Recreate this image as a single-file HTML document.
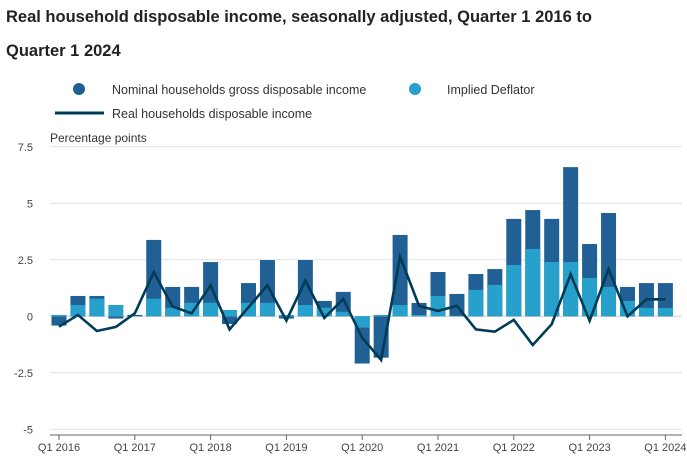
<!DOCTYPE html>
<html><head><meta charset="utf-8"><style>
body{margin:0;background:#fff;font-family:"Liberation Sans",sans-serif;}
svg text{font-family:"Liberation Sans",sans-serif;}
</style></head><body>
<svg id="chart" width="687" height="465" xmlns="http://www.w3.org/2000/svg">
<text x="6" y="22" font-size="16.5" font-weight="bold" fill="#222">Real household disposable income, seasonally adjusted, Quarter 1 2016 to</text>
<text x="6" y="56" font-size="16.5" font-weight="bold" fill="#222">Quarter 1 2024</text>
<g>
<circle cx="79" cy="89" r="6" fill="#206095"/>
<text x="112" y="94" font-size="12.5" fill="#333">Nominal households gross disposable income</text>
<circle cx="415" cy="89" r="6" fill="#27a0cc"/>
<text x="447" y="94" font-size="12.5" fill="#333">Implied Deflator</text>
<line x1="55" y1="113" x2="104" y2="113" stroke="#003c57" stroke-width="3"/>
<text x="112" y="118" font-size="12.5" fill="#333">Real households disposable income</text>
</g>
<text x="50" y="142" font-size="12" fill="#333">Percentage points</text>
<g id="grid"></g><g id="bars"></g><g id="line"></g><g id="xaxis"></g>
</svg>
<script>
const categories=["Q1 2016","Q2 2016","Q3 2016","Q4 2016","Q1 2017","Q2 2017","Q3 2017","Q4 2017","Q1 2018","Q2 2018","Q3 2018","Q4 2018","Q1 2019","Q2 2019","Q3 2019","Q4 2019","Q1 2020","Q2 2020","Q3 2020","Q4 2020","Q1 2021","Q2 2021","Q3 2021","Q4 2021","Q1 2022","Q2 2022","Q3 2022","Q4 2022","Q1 2023","Q2 2023","Q3 2023","Q4 2023","Q1 2024"];
const nominal=[-0.41,0.9,0.9,-0.1,0.06,3.38,1.3,1.3,2.4,-0.34,1.47,2.49,-0.1,2.49,0.68,1.08,-2.09,-1.83,3.6,0.59,1.96,0.99,1.87,2.09,4.31,4.7,4.31,6.6,3.2,4.57,1.3,1.47,1.47];
const deflator=[0.06,0.5,0.78,0.5,0,0.78,0.38,0.6,0.6,0.28,0.6,0.6,0.06,0.5,0.38,0.2,-0.5,0.06,0.5,0.06,0.9,0.02,1.17,1.39,2.27,2.98,2.4,2.4,1.7,1.3,0.68,0.37,0.37];
const real=[-0.46,0.06,-0.65,-0.47,0.13,1.95,0.43,0.13,1.37,-0.58,0.4,1.37,-0.19,1.58,-0.07,0.77,-0.95,-1.93,2.64,0.46,0.24,0.46,-0.58,-0.68,-0.16,-1.27,-0.35,1.86,-0.2,2.09,0,0.75,0.75];
const yTicks=[7.5,5,2.5,0,-2.5,-5];
const yTickLabels=["7.5","5","2.5","0","-2.5","-5"];
const xLabelIdx=[0,4,8,12,16,20,24,28,32];

const NS="http://www.w3.org/2000/svg";
const y=v=>316.3-v*22.6;
const x=i=>59+i*18.95;
function mk(tag,attrs,parent,txt){const e=document.createElementNS(NS,tag);for(const k in attrs)e.setAttribute(k,attrs[k]);if(txt!==undefined)e.textContent=txt;document.getElementById(parent).appendChild(e);return e;}
yTicks.forEach((t,k)=>{
 const g=mk('line',{x1:50,x2:682,y1:y(t),y2:y(t),stroke:t===0?'#d0d0d0':'#e2e2e2','stroke-width':1},'grid');
 
 
 const l=mk('text',{x:33,y:y(t)+4,'font-size':11,fill:'#444','text-anchor':'end'},'grid',yTickLabels[k]);
 
 
});
const bw=15;
categories.forEach((c,i)=>{
 const n=nominal[i];
 const b=mk('rect',{x:x(i)-bw/2,y:Math.min(y(0),y(n)),width:bw,height:Math.abs(y(n)-y(0)),fill:'#206095'},'bars');
 
 
 const d=deflator[i];
 const b2=mk('rect',{x:x(i)-bw/2,y:Math.min(y(0),y(d)),width:bw,height:Math.abs(y(d)-y(0)),fill:'#27a0cc'},'bars');
 
 
});
const p=mk('polyline',{points:real.map((v,i)=>x(i)+','+y(v)).join(' '),fill:'none',stroke:'#003c57','stroke-width':2.6,'stroke-linejoin':'miter'},'line');


const ax=mk('line',{x1:50,x2:682,y1:435,y2:435,stroke:'#666','stroke-width':1},'xaxis');


xLabelIdx.forEach(i=>{
 const t=mk('line',{x1:x(i),x2:x(i),y1:435,y2:440,stroke:'#666'},'xaxis');
 
 
 const l=mk('text',{x:x(i),y:451,'font-size':11,fill:'#444','text-anchor':'middle'},'xaxis',categories[i]);
 
 
});
</script>
</body></html>
